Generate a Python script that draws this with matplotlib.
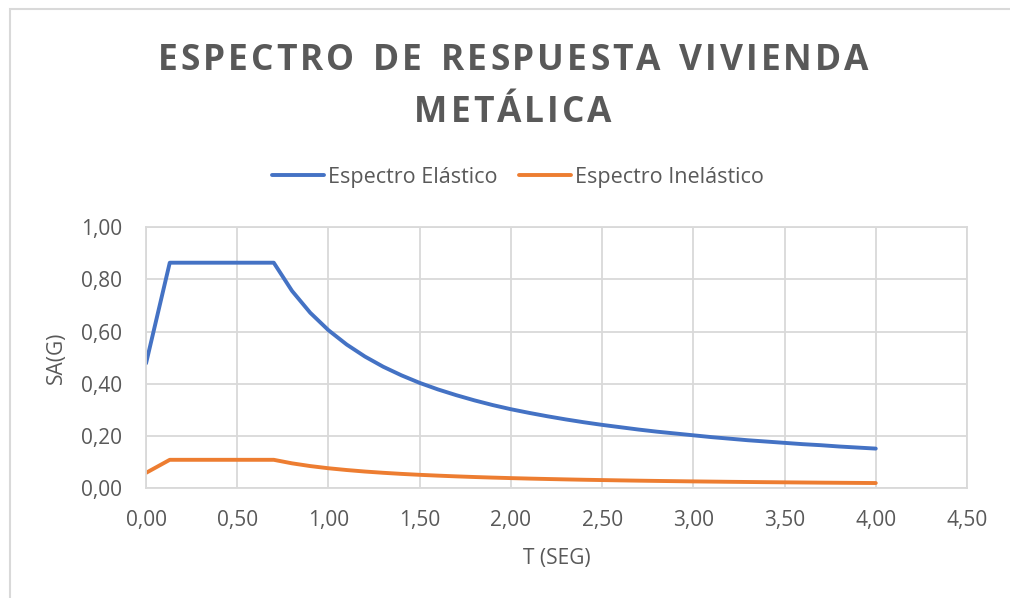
import matplotlib.pyplot as plt
from matplotlib.patches import Rectangle
from matplotlib.ticker import FuncFormatter

plt.rcParams['font.family'] = ['Open Sans', 'DejaVu Sans']

# periodos (s) y aceleraciones espectrales (g)
periodos = [0.0, 0.13, 0.7, 0.8, 0.9, 1.0, 1.1, 1.2, 1.3, 1.4, 1.5, 1.6, 1.7, 1.8,
            1.9, 2.0, 2.1, 2.2, 2.3, 2.4, 2.5, 2.6, 2.7, 2.8, 2.9, 3.0, 3.1, 3.2,
            3.3, 3.4, 3.5, 3.6, 3.7, 3.8, 3.9, 4.0]
sa_elastico = [0.478, 0.864, 0.864, 0.756, 0.672, 0.605, 0.550, 0.504, 0.465, 0.432,
               0.403, 0.378, 0.356, 0.336, 0.318, 0.302, 0.288, 0.275, 0.263, 0.252,
               0.242, 0.233, 0.224, 0.216, 0.209, 0.202, 0.195, 0.189, 0.183, 0.178,
               0.173, 0.168, 0.164, 0.159, 0.155, 0.151]
sa_inelastico = [0.058, 0.108, 0.108, 0.0945, 0.084, 0.0756, 0.0688, 0.063, 0.0582,
                 0.054, 0.0504, 0.0473, 0.0445, 0.042, 0.0398, 0.0378, 0.036, 0.0344,
                 0.0329, 0.0315, 0.0303, 0.0291, 0.028, 0.027, 0.0261, 0.0252, 0.0244,
                 0.0236, 0.0229, 0.0222, 0.0216, 0.021, 0.0204, 0.0199, 0.0194, 0.0189]
titulo = ['ESPECTRO DE RESPUESTA VIVIENDA', 'METÁLICA']

gris = '#595959'
rejilla = '#D9D9D9'


def texto_espaciado(fig, xc, yb, s, espacio, ancho_blanco, **kw):
    # dibuja letra por letra para abrir el espaciado del titulo
    r = fig.canvas.get_renderer()
    anchos = []
    for c in s:
        if c == ' ':
            anchos.append(ancho_blanco)
            continue
        t = fig.text(0, 0, c, **kw)
        anchos.append(t.get_window_extent(r).width)
        t.remove()
    total = sum(anchos) + espacio * (len(s) - 1)
    x = xc * fig.bbox.width - total / 2
    for c, w in zip(s, anchos):
        if c != ' ':
            fig.text(x / fig.bbox.width, yb, c, ha='left', va='baseline', **kw)
        x += w + espacio


fig = plt.figure(figsize=(10.1, 5.98), dpi=100)
ax = fig.add_axes([0.1446, 0.184, 0.8128, 0.436])

# marco del grafico
fig.patches.append(Rectangle((10 / 1010, -0.1), 1.2, 1 - 9 / 598 + 0.1,
                             transform=fig.transFigure, fill=False,
                             edgecolor=rejilla, linewidth=1.5))

ax.plot(periodos, sa_elastico, color='#4472C4', lw=2.8, label='Espectro Elástico',
        solid_capstyle='round')
ax.plot(periodos, sa_inelastico, color='#ED7D31', lw=2.8, label='Espectro Inelástico',
        solid_capstyle='round')

ax.set_xlim(0, 4.5)
ax.set_ylim(0, 1.0)
ax.set_xticks([i * 0.5 for i in range(10)])
ax.set_yticks([i * 0.2 for i in range(6)])
coma = FuncFormatter(lambda v, p: f'{v:.2f}'.replace('.', ','))
ax.xaxis.set_major_formatter(coma)
ax.yaxis.set_major_formatter(coma)
ax.tick_params(length=0, labelsize=15, labelcolor=gris)
ax.tick_params(axis='x', pad=16)
ax.tick_params(axis='y', pad=17)
ax.grid(True, color=rejilla, lw=1.3)
ax.set_axisbelow(True)
for s in ax.spines.values():
    s.set_color(rejilla)
    s.set_linewidth(1.3)

ax.set_xlabel('T (SEG)', fontsize=15, color=gris, labelpad=12)
ax.set_ylabel('SA(G)', fontsize=15, color=gris, labelpad=10)

texto_espaciado(fig, 0.508, 1 - 69.5 / 598, titulo[0], 3.0, 13,
                fontsize=25.5, fontweight='bold', color=gris)
texto_espaciado(fig, 0.508, 1 - 122 / 598, titulo[1], 3.0, 13,
                fontsize=25.5, fontweight='bold', color=gris)

fig.legend(loc='center', bbox_to_anchor=(0.513, 1 - 177 / 598), ncol=2, frameon=False,
           fontsize=15.5, labelcolor=gris, handlelength=2.4, handletextpad=0.2,
           columnspacing=1.0)

fig.savefig('out.png', dpi=100)
